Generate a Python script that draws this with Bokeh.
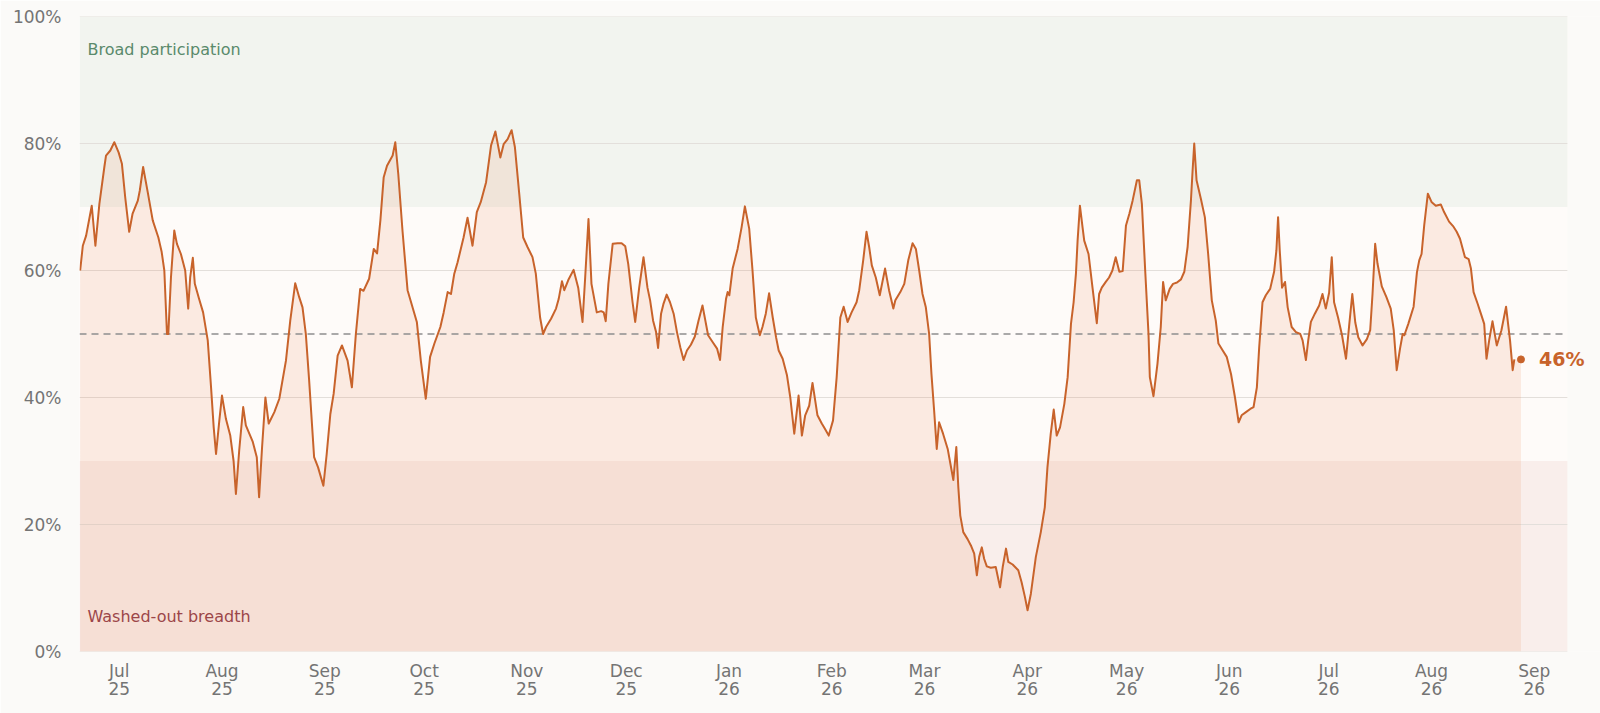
import pandas as pd
from bokeh.plotting import figure
from bokeh.models import BoxAnnotation, Label, FixedTicker, PrintfTickFormatter, Range1d, ColumnDataSource
from bokeh.embed import file_html
from bokeh.resources import INLINE

# ---------------- data ----------------
start_date = "2025-06-19"
end_date = "2026-09-11"

# days since start_date
day_offsets = [
    0.2, 1.0, 2.0, 3.7, 4.8, 6.0, 7.5, 8.0, 9.3, 10.5, 11.8, 12.8, 13.8, 15.0, 16.0, 17.6, 18.2, 19.2,
    20.6, 22.1, 23.8, 24.8, 25.6, 26.4, 26.8, 27.6, 28.6, 29.4, 30.6, 31.9, 32.8, 33.4, 34.2, 34.8,
    36.1, 37.3, 38.7, 39.7, 40.5, 41.2, 42.2, 43.0, 44.2, 45.5, 46.5, 47.2, 48.2, 49.4, 50.2, 52.3,
    53.5, 54.2, 55.1, 56.1, 57.1, 58.8, 60.3, 62.3, 63.6, 65.1, 66.3, 67.3, 68.3, 69.3, 70.8, 72.0,
    73.6, 74.6, 75.7, 76.7, 77.9, 79.2, 80.9, 82.2, 83.4, 84.7, 85.7, 87.4, 88.8, 89.8, 90.8, 91.8,
    92.8, 94.5, 95.3, 96.2, 97.5, 99.0, 100.5, 101.8, 103.0, 104.5, 105.8, 107.1, 108.9, 109.9,
    111.1, 112.1, 113.1, 114.1, 115.9, 117.1, 118.6, 119.9, 121.1, 122.7, 124.2, 125.5, 127.0,
    128.0, 129.2, 130.4, 131.4, 132.7, 133.9, 135.2, 136.7, 137.7, 139.0, 139.9, 140.8, 142.3,
    143.8, 144.6, 145.6, 146.3, 147.5, 149.1, 150.5, 151.8, 152.6, 153.6, 154.5, 156.1, 157.4,
    158.2, 158.8, 159.6, 160.9, 162.4, 163.6, 164.7, 165.6, 166.9, 167.7, 168.9, 170.2, 171.4,
    172.2, 173.1, 174.0, 174.6, 175.5, 176.2, 177.2, 178.2, 179.3, 180.3, 181.3, 182.3, 183.3,
    184.5, 185.7, 186.8, 188.0, 189.7, 191.1, 192.4, 193.3, 194.1, 195.1, 195.6, 196.1, 197.1,
    198.6, 199.8, 200.8, 202.1, 203.1, 204.1, 205.3, 206.1, 207.1, 208.1, 209.2, 210.2, 211.0,
    212.2, 213.5, 214.5, 215.7, 217.0, 218.0, 219.0, 220.2, 221.2, 222.7, 224.0, 224.9, 226.1,
    227.4, 228.5, 229.6, 230.6, 231.8, 233.0, 234.5, 235.3, 236.5, 237.5, 238.3, 239.1, 240.3,
    241.5, 243.1, 244.3, 245.6, 246.2, 247.7, 248.9, 250.1, 251.4, 252.4, 253.4, 254.4, 255.4,
    256.4, 257.1, 257.9, 258.7, 259.4, 260.6, 262.0, 262.8, 263.7, 264.6, 265.2, 265.8, 266.7,
    268.0, 269.0, 270.0, 270.8, 271.5, 272.3, 273.0, 273.8, 275.0, 276.5, 277.8, 278.6, 279.6,
    280.3, 281.6, 283.3, 284.3, 285.3, 286.1, 287.1, 288.6, 290.1, 291.3, 292.1, 293.1, 294.0,
    294.9, 295.9, 297.2, 298.2, 299.2, 300.0, 300.7, 301.2, 301.9, 302.7, 303.2, 304.5, 305.7,
    307.0, 307.7, 308.5, 309.7, 310.7, 311.7, 312.7, 313.8, 314.8, 315.8, 316.8, 317.8, 319.1,
    319.8, 320.6, 321.6, 322.6, 323.0, 324.1, 325.3, 326.3, 327.0, 327.8, 329.0, 330.0, 331.2,
    332.4, 333.4, 334.4, 335.4, 335.9, 336.4, 337.1, 338.4, 339.6, 340.6, 341.7, 342.9, 343.7,
    345.0, 346.2, 347.5, 348.7, 349.8, 350.7, 352.0, 353.3, 354.3, 355.3, 356.0, 357.0, 358.0,
    359.3, 360.5, 361.2, 361.7, 362.2, 362.9, 363.8, 364.6, 365.8, 367.1, 368.4, 369.1, 370.1,
    370.8, 371.6, 372.8, 374.1, 375.1, 376.1, 377.1, 377.9, 378.6, 379.8, 381.0, 382.2, 383.2,
    384.1, 385.0, 385.9, 387.2, 388.5, 389.5, 390.2, 391.0, 391.7, 393.0, 394.4, 395.7, 396.6,
    397.5, 398.5, 399.3, 399.8, 401.0, 402.6, 403.6, 404.3, 405.0, 405.8, 406.9, 408.0, 409.3,
    410.8, 411.8, 413.3, 414.5, 415.6, 416.6, 418.1, 419.2, 419.9, 420.7, 421.9, 422.9, 423.9,
    424.6, 425.4, 426.4, 427.7, 429.1, 430.5, 431.7, 432.5, 433.0,
]

# % of members above trend
breadth_pct = [
    60.0, 63.9, 65.5, 70.2, 63.9, 70.5, 76.3, 78.1, 78.9, 80.2, 78.6, 76.8, 71.5, 66.1, 68.9, 71.0, 72.6, 76.3,
    72.3, 67.9, 65.2, 62.9, 60.0, 50.0, 50.0, 58.9, 66.3, 64.2, 62.6, 60.0, 54.0, 58.9, 62.0, 57.9,
    55.5, 53.4, 49.0, 41.6, 35.3, 31.1, 36.4, 40.3, 36.6, 34.0, 30.0, 24.8, 31.7, 38.5, 35.6, 33.0,
    30.6, 24.3, 32.2, 40.0, 35.9, 37.7, 39.8, 45.8, 52.1, 58.0, 55.8, 54.2, 50.0, 42.7, 30.6, 29.0,
    26.1, 31.1, 37.4, 40.6, 46.6, 48.2, 45.8, 41.6, 50.0, 57.1, 56.8, 58.7, 63.4, 62.7, 67.9, 74.7,
    76.5, 78.1, 80.2, 75.2, 66.1, 56.9, 54.2, 51.9, 45.8, 39.8, 46.4, 48.5, 51.1, 53.4,
    56.6, 56.3, 59.5, 61.3, 65.2, 68.3, 63.9, 69.2, 70.8, 73.9, 79.7, 81.9, 77.8,
    79.9, 80.7, 82.1, 79.4, 72.1, 65.2, 63.7, 62.1, 59.5, 52.6, 50.0, 51.1, 52.4,
    54.0, 55.5, 58.3, 56.9, 58.5, 60.1, 57.3, 51.9, 58.9, 68.1, 57.9, 53.4, 53.6,
    53.4, 52.0, 57.9, 64.2, 64.3, 64.3, 63.8, 61.0, 55.0, 51.9, 57.3, 62.1, 57.3,
    55.3, 52.1, 50.3, 47.8, 53.2, 54.7, 56.2, 55.0, 53.2, 50.3, 47.9, 45.9, 47.4,
    48.3, 49.6, 52.1, 54.5, 49.8, 48.7, 47.7, 45.9, 51.1, 55.5, 56.6, 56.1, 60.3,
    63.4, 66.8, 70.1, 66.6, 60.0, 52.6, 49.8, 51.1, 53.2, 56.4, 52.6, 49.5, 47.4,
    46.1, 43.5, 40.0, 34.3, 40.3, 34.0, 37.2, 38.7, 42.3, 37.2, 35.9, 35.1, 34.0,
    36.4, 43.2, 52.6, 54.3, 51.9, 53.4, 55.0, 56.9, 61.6, 66.1, 63.7, 60.8, 58.9,
    56.1, 60.3, 56.9, 54.0, 55.3, 56.6, 57.9, 61.6, 64.3, 63.4, 60.0, 56.3, 54.2,
    50.0, 43.7, 38.0, 31.9, 36.1, 34.3, 31.9, 29.6, 27.0, 32.2, 25.9, 21.4, 18.8,
    17.7, 16.7, 15.4, 12.0, 14.9, 16.4, 14.6, 13.4, 13.2, 13.3, 10.1, 13.3, 16.2,
    14.1, 13.7, 12.8, 10.9, 8.6, 6.5, 9.1, 14.9, 18.8, 22.7, 29.0, 34.3, 38.1,
    34.0, 35.3, 39.0, 43.2, 51.6, 55.0, 59.5, 64.7, 70.2, 66.8, 64.7, 62.6, 57.3,
    51.7, 56.3, 57.3, 58.2, 58.9, 60.0, 62.1, 59.8, 59.9, 67.1, 68.9, 71.0, 74.2,
    74.2, 70.5, 60.0, 50.0, 43.2, 40.2, 45.3, 51.1, 58.2, 55.3, 57.1, 57.9, 58.1,
    58.6, 59.8, 63.7, 71.0, 75.7, 80.0, 74.2, 71.3, 68.4, 62.6, 55.3, 52.1, 48.5,
    47.4, 46.4, 43.7, 40.0, 36.1, 37.2, 37.7, 38.2, 38.5, 41.6, 47.9, 55.0, 56.1,
    57.1, 59.8, 63.2, 68.4, 63.2, 57.3, 58.2, 54.2, 51.1, 50.3, 50.0, 49.0, 45.9,
    49.0, 51.9, 53.2, 54.5, 56.3, 54.0, 56.5, 62.1, 55.0, 52.6, 49.8, 46.1, 51.6,
    56.3, 51.8, 49.5, 48.2, 49.2, 50.6, 56.3, 64.2, 61.1, 57.5, 55.8, 54.0, 50.6,
    44.3, 47.7, 50.0, 49.8, 51.6, 54.3, 59.7, 61.6, 62.6, 67.1, 72.1, 70.8, 70.2,
    70.4, 69.2, 67.7, 67.0, 66.1, 65.0, 62.1, 61.8, 60.3, 56.6, 54.8, 53.2, 51.6,
    46.1, 49.0, 52.0, 48.2, 50.6, 54.3, 49.0, 44.3, 46.0,
]

latest_date = "2026-08-28"
latest_value = 46

month_ticks = ["2025-07-01", "2025-08-01", "2025-09-01", "2025-10-01", "2025-11-01", "2025-12-01",
               "2026-01-01", "2026-02-01", "2026-03-01", "2026-04-01", "2026-05-01", "2026-06-01",
               "2026-07-01", "2026-08-01", "2026-09-01"]
month_labels = ["Jul\n25", "Aug\n25", "Sep\n25", "Oct\n25", "Nov\n25", "Dec\n25",
                "Jan\n26", "Feb\n26", "Mar\n26", "Apr\n26", "May\n26", "Jun\n26",
                "Jul\n26", "Aug\n26", "Sep\n26"]
y_ticks = [0, 20, 40, 60, 80, 100]

broad_threshold = 70
washed_threshold = 30
neutral_line = 50

# ---------------- styling ----------------
LINE = "#c8632b"
FONT = "DejaVu Sans"
TICK_COLOR = "#747474"
PAGE_BG = "#fbfaf8"
RIGHT_PAD_DAYS = 10  # room for the end label, outside the shaded panel

def ms(ts):
    return pd.Timestamp(ts).value / 1e6

start = pd.Timestamp(start_date)
end = pd.Timestamp(end_date)
dates = list(start + pd.to_timedelta(day_offsets, unit="D"))
latest_ts = pd.Timestamp(latest_date)

src = ColumnDataSource(dict(x=dates, y=breadth_pct))
area_src = ColumnDataSource(dict(x=dates + [latest_ts], y=breadth_pct + [latest_value]))
grid_src = ColumnDataSource(dict(x0=[start] * len(y_ticks), x1=[end] * len(y_ticks), y=y_ticks))

p = figure(
    width=1600, height=713,
    x_axis_type="datetime",
    x_range=Range1d(start, end + pd.Timedelta(days=RIGHT_PAD_DAYS)),
    y_range=Range1d(0, 100),
    output_backend="svg", toolbar_location=None,
    min_border_left=79, min_border_right=0, min_border_top=16, min_border_bottom=62,
    background_fill_color=PAGE_BG, border_fill_color=PAGE_BG,
    outline_line_color=None,
)

# panel + bands (limited to the chart's date span)
p.add_layout(BoxAnnotation(left=ms(start_date), right=ms(end_date), bottom=0, top=100,
                           fill_color="#fefbf9", fill_alpha=1.0, line_color=None, level="underlay"))
p.add_layout(BoxAnnotation(left=ms(start_date), right=ms(end_date), bottom=broad_threshold, top=100,
                           fill_color="#2f8a55", fill_alpha=0.06, line_color=None, level="underlay"))
p.add_layout(BoxAnnotation(left=ms(start_date), right=ms(end_date), bottom=0, top=washed_threshold,
                           fill_color="#b84a3c", fill_alpha=0.07, line_color=None, level="underlay"))

# gridlines
p.segment(x0="x0", x1="x1", y0="y", y1="y", source=grid_src, line_color="#e3dfdb", line_width=1)

# area + line
p.varea(x="x", y1=0, y2="y", source=area_src, fill_color="#e8753c", fill_alpha=0.12)
p.segment(x0=[start], x1=[end], y0=[neutral_line], y1=[neutral_line], line_color="#8e8e8e",
          line_dash="7 5", line_width=1.5)
p.line(x="x", y="y", source=src, line_color=LINE, line_width=2, line_join="round")
p.scatter(x=[latest_ts], y=[latest_value], size=7, color=LINE)

p.add_layout(Label(x=ms(latest_date), y=latest_value, x_offset=18, text=f"{latest_value}%",
                   text_font=FONT, text_font_size="19px", text_font_style="bold",
                   text_color=LINE, text_baseline="middle"))

p.add_layout(Label(x=ms(start_date), y=94.8, x_offset=8, text="Broad participation",
                   text_font=FONT, text_font_size="16px", text_color="#5a8a6b",
                   text_baseline="middle"))
p.add_layout(Label(x=ms(start_date), y=5.5, x_offset=8, text="Washed-out breadth",
                   text_font=FONT, text_font_size="16px", text_color="#9c4649",
                   text_baseline="middle"))

# axes
p.xgrid.visible = False
p.ygrid.visible = False

p.yaxis.ticker = FixedTicker(ticks=y_ticks)
p.yaxis.formatter = PrintfTickFormatter(format="%d%%")
tick_ms = [ms(t) for t in month_ticks]
p.xaxis.ticker = FixedTicker(ticks=tick_ms)
p.xaxis.major_label_overrides = {t: lab for t, lab in zip(tick_ms, month_labels)}

for ax in (p.xaxis, p.yaxis):
    ax.axis_line_color = None
    ax.major_tick_line_color = None
    ax.minor_tick_line_color = None
    ax.major_label_text_font = FONT
    ax.major_label_text_font_size = "17px"
    ax.major_label_text_color = TICK_COLOR
p.yaxis.major_label_standoff = 12
p.xaxis.major_label_standoff = 3
p.xaxis.major_label_text_line_height = 0.92

open("out.html", "w").write(file_html(p, INLINE))
